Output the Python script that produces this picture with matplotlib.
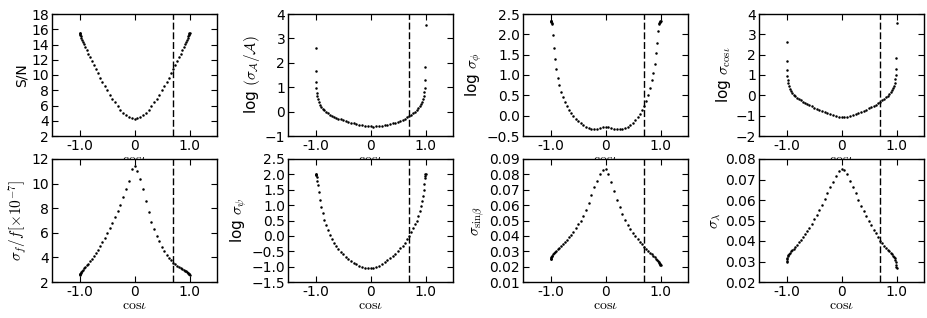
import matplotlib
matplotlib.use('Agg')
import matplotlib.pyplot as plt

plt.rcParams['mathtext.fontset'] = 'cm'
plt.rcParams['font.family'] = ['DejaVu Sans']

# x values: cos(iota)
cos_i = [-1.0, -0.9986, -0.9945, -0.9877, -0.9781, -0.9659, -0.9511, -0.9336, -0.9135, -0.8910,
         -0.8660, -0.8387, -0.8090, -0.7771, -0.7431, -0.7071, -0.6691, -0.6293, -0.5878, -0.5446,
         -0.5000, -0.4540, -0.4067, -0.3584, -0.3090, -0.2588, -0.2079, -0.1564, -0.1045, -0.0523,
         0.0,
         0.0523, 0.1045, 0.1564, 0.2079, 0.2588, 0.3090, 0.3584, 0.4067, 0.4540, 0.5000,
         0.5446, 0.5878, 0.6293, 0.6691, 0.7071, 0.7431, 0.7771, 0.8090, 0.8387, 0.8660,
         0.8910, 0.9135, 0.9336, 0.9511, 0.9659, 0.9781, 0.9877, 0.9945, 0.9986, 1.0]

cut_cos_i = 0.707

snr = [15.50, 15.47, 15.40, 15.28, 15.11, 14.90, 14.65, 14.35, 14.01, 13.64,
       13.23, 12.79, 12.32, 11.82, 11.30, 10.77, 10.22, 9.66, 9.11, 8.54,
       7.99, 7.43, 6.90, 6.40, 5.91, 5.47, 5.08, 4.74, 4.48, 4.31,
       4.25,
       4.31, 4.48, 4.74, 5.08, 5.47, 5.91, 6.40, 6.90, 7.43, 7.99,
       8.54, 9.11, 9.66, 10.22, 10.77, 11.30, 11.82, 12.32, 12.79, 13.23,
       13.64, 14.01, 14.35, 14.65, 14.90, 15.11, 15.28, 15.40, 15.47, 15.50]

log_sig_amp = [2.60, 1.65, 1.22, 0.95, 0.78, 0.63, 0.50, 0.39, 0.29, 0.20,
               0.12, 0.05, -0.01, -0.07, -0.12, -0.17, -0.21, -0.25, -0.29, -0.32,
               -0.36, -0.39, -0.42, -0.45, -0.48, -0.51, -0.54, -0.56, -0.58, -0.60,
               -0.61,
               -0.615, -0.61, -0.60, -0.58, -0.56, -0.54, -0.51, -0.48, -0.45, -0.41,
               -0.38, -0.34, -0.29, -0.24, -0.19, -0.13, -0.07, -0.01, 0.06, 0.13,
               0.21, 0.30, 0.40, 0.51, 0.64, 0.79, 0.98, 1.28, 1.83, 3.55]

log_sig_phi = [2.34, 2.33, 2.32, 2.30, 2.28, 2.25, 1.98, 1.67, 1.39, 1.14,
               0.93, 0.75, 0.58, 0.45, 0.34, 0.24, 0.15, 0.07, 0.00, -0.07,
               -0.13, -0.18, -0.23, -0.27, -0.31, -0.33, -0.34, -0.33, -0.31, -0.29,
               -0.27,
               -0.28, -0.30, -0.32, -0.335, -0.34, -0.33, -0.30, -0.27, -0.22, -0.17,
               -0.11, -0.04, 0.04, 0.13, 0.24, 0.36, 0.50, 0.67, 0.87, 1.05,
               1.28, 1.53, 1.79, 2.09, 2.25, 2.28, 2.30, 2.31, 2.32, 2.32]

log_sig_cosi = [2.60, 1.67, 1.23, 0.95, 0.76, 0.60, 0.45, 0.33, 0.22, 0.12,
                0.03, -0.05, -0.12, -0.19, -0.25, -0.31, -0.37, -0.43, -0.49, -0.54,
                -0.60, -0.65, -0.70, -0.76, -0.81, -0.87, -0.92, -0.97, -1.01, -1.05,
                -1.07,
                -1.07, -1.05, -1.01, -0.97, -0.92, -0.87, -0.82, -0.76, -0.70, -0.64,
                -0.58, -0.52, -0.46, -0.39, -0.32, -0.25, -0.18, -0.10, -0.02, 0.06,
                0.15, 0.25, 0.36, 0.48, 0.62, 0.78, 0.98, 1.28, 1.84, 3.55]

sig_f = [2.60, 2.61, 2.64, 2.68, 2.74, 2.81, 2.89, 2.99, 3.10, 3.22,
         3.35, 3.50, 3.68, 3.88, 4.10, 4.35, 4.62, 4.92, 5.25, 5.60,
         5.98, 6.38, 6.80, 7.25, 7.75, 8.30, 8.90, 9.55, 10.25, 11.15,
         11.40,
         11.00, 10.40, 9.60, 8.60, 7.70, 6.90, 6.30, 5.75, 5.30, 4.85,
         4.50, 4.20, 3.95, 3.75, 3.58, 3.45, 3.34, 3.24, 3.15, 3.07,
         2.99, 2.92, 2.86, 2.80, 2.75, 2.70, 2.66, 2.63, 2.61, 2.60]

log_sig_psi = [2.00, 2.00, 1.99, 1.97, 1.92, 1.80, 1.64, 1.42, 1.18, 0.95,
               0.73, 0.53, 0.35, 0.18, 0.03, -0.10, -0.22, -0.33, -0.43, -0.52,
               -0.60, -0.68, -0.75, -0.82, -0.88, -0.93, -0.97, -1.01, -1.04, -1.05,
               -1.05,
               -1.04, -1.01, -0.97, -0.92, -0.86, -0.80, -0.73, -0.66, -0.58, -0.50,
               -0.41, -0.32, -0.22, -0.11, 0.00, 0.12, 0.24, 0.37, 0.50, 0.64,
               0.80, 0.96, 1.12, 1.30, 1.50, 1.70, 1.88, 1.96, 2.00, 2.01]

sig_sinbeta = [0.0250, 0.0252, 0.0256, 0.0261, 0.0266, 0.0272, 0.0279, 0.0287, 0.0295, 0.0304,
               0.0313, 0.0323, 0.0334, 0.0346, 0.0359, 0.0374, 0.0390, 0.0408, 0.0428, 0.0450,
               0.0475, 0.0500, 0.0530, 0.0570, 0.0615, 0.0665, 0.0715, 0.0760, 0.0800, 0.0830,
               0.0838,
               0.0805, 0.0750, 0.0690, 0.0635, 0.0585, 0.0540, 0.0502, 0.0470, 0.0442, 0.0418,
               0.0397, 0.0378, 0.0361, 0.0345, 0.0330, 0.0316, 0.0303, 0.0291, 0.0280, 0.0270,
               0.0260, 0.0251, 0.0243, 0.0236, 0.0229, 0.0223, 0.0218, 0.0214, 0.0212, 0.0211]

sig_lambda = [0.0297, 0.0303, 0.0311, 0.0319, 0.0326, 0.0332, 0.0337, 0.0343, 0.0349, 0.0356,
              0.0363, 0.0371, 0.0382, 0.0393, 0.0405, 0.0418, 0.0432, 0.0447, 0.0463, 0.0483,
              0.0505, 0.0529, 0.0553, 0.0578, 0.0605, 0.0633, 0.0663, 0.0690, 0.0715, 0.0740,
              0.0753,
              0.0748, 0.0725, 0.0695, 0.0665, 0.0632, 0.0600, 0.0572, 0.0545, 0.0520, 0.0497,
              0.0476, 0.0456, 0.0437, 0.0419, 0.0402, 0.0388, 0.0376, 0.0366, 0.0357, 0.0349,
              0.0342, 0.0335, 0.0329, 0.0323, 0.0316, 0.0307, 0.0296, 0.0285, 0.0275, 0.0268]

panels = [
    (snr, 'S/N', (2, 18), [2, 4, 6, 8, 10, 12, 14, 16, 18]),
    (log_sig_amp, r'log $(\sigma_{\mathcal{A}}/\mathcal{A})$', (-1, 4), [-1, 0, 1, 2, 3, 4]),
    (log_sig_phi, r'log $\sigma_{\phi}$', (-0.5, 2.5), [-0.5, 0.0, 0.5, 1.0, 1.5, 2.0, 2.5]),
    (log_sig_cosi, r'log $\sigma_{\mathrm{cos}\iota}$', (-2, 4), [-2, -1, 0, 1, 2, 3, 4]),
    (sig_f, r'$\sigma_f/f[\times10^{-7}]$', (2, 12), [2, 4, 6, 8, 10, 12]),
    (log_sig_psi, r'log $\sigma_{\psi}$', (-1.5, 2.5), [-1.5, -1.0, -0.5, 0.0, 0.5, 1.0, 1.5, 2.0, 2.5]),
    (sig_sinbeta, r'$\sigma_{\mathrm{sin}\beta}$', (0.01, 0.09), [0.01, 0.02, 0.03, 0.04, 0.05, 0.06, 0.07, 0.08, 0.09]),
    (sig_lambda, r'$\sigma_{\lambda}$', (0.02, 0.08), [0.02, 0.03, 0.04, 0.05, 0.06, 0.07, 0.08]),
]

W, H = 927, 318
fig = plt.figure(figsize=(W / 100, H / 100), dpi=100)
lefts = [52, 288, 523, 759]
rows = [(14, 136), (159, 282)]
axw = 165

for i, (yv, ylab, ylim, yt) in enumerate(panels):
    r, c = divmod(i, 4)
    top, bot = rows[r]
    ax = fig.add_axes([lefts[c] / W, (H - bot) / H, axw / W, (bot - top) / H])
    ax.plot(cos_i, yv, 'o', color='k', ms=1.8, mec='none')
    ax.axvline(cut_cos_i, color='k', ls='--', lw=1.0, dashes=(5, 2))
    ax.set_xlim(-1.5, 1.5)
    ax.set_xticks([-1, 0, 1])
    ax.set_xticklabels(['-1.0', '0', '1.0'])
    ax.set_ylim(*ylim)
    ax.set_yticks(yt)
    ax.tick_params(direction='in', top=True, right=True, length=4, width=0.8, labelsize=10)
    ax.tick_params(axis='x', pad=2.5)
    ax.tick_params(axis='y', pad=2)
    ax.set_xlabel(r'$\mathrm{cos}\iota$', fontsize=10, labelpad=-1)
    ax.set_ylabel(ylab, fontsize=10 if i == 0 else 11, labelpad=2)
    for s in ax.spines.values():
        s.set_linewidth(1.0)

fig.savefig('out.png', dpi=100)
